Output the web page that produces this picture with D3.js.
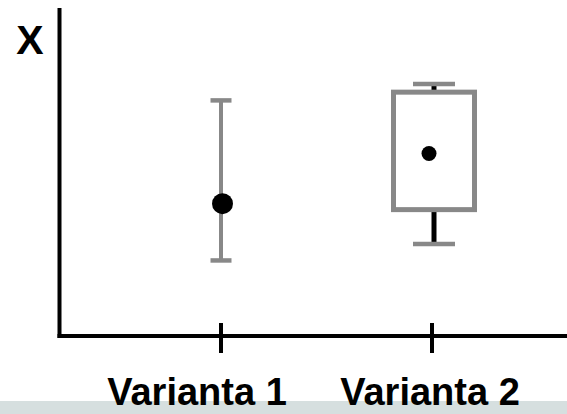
<!DOCTYPE html>
<html>
<head>
<meta charset="utf-8">
<script src="https://cdn.jsdelivr.net/npm/d3@7"></script>
<style>
  body { margin: 0; background: #fff; }
  text { font-family: "Liberation Sans", Arial, sans-serif; font-weight: bold; fill: #000; }
</style>
</head>
<body>
<div id="vis"></div>
<script>
const FRAME_WIDTH = 567;
const FRAME_HEIGHT = 414;

// data (arbitrary units, 0..10 on the y axis)
const categories = ["Varianta 1", "Varianta 2"];
const means = [4.07, 5.59];
const whiskerLow = [2.35, 2.85];
const whiskerHigh = [7.2, 7.7];
const boxLow = [null, 3.89];
const boxHigh = [null, 7.45];
const yLabel = "X";

const GRAY = "#888888";

const FRAME = d3.select("#vis")
                .append("svg")
                  .attr("width", FRAME_WIDTH)
                  .attr("height", FRAME_HEIGHT);

// pale band along the bottom edge
FRAME.append("rect")
      .attr("x", 0)
      .attr("y", 401)
      .attr("width", FRAME_WIDTH)
      .attr("height", FRAME_HEIGHT - 401)
      .attr("fill", "#d6dfdf");

const X_SCALE = d3.scalePoint()
                  .domain(categories)
                  .range([221, 432]);

const Y_SCALE = d3.scaleLinear()
                  .domain([0, 10])
                  .range([338, 8]);

// axes
FRAME.append("line")
      .attr("x1", 59.5).attr("x2", 59.5)
      .attr("y1", Y_SCALE(10)).attr("y2", 338)
      .attr("stroke", "#000").attr("stroke-width", 4);

FRAME.append("line")
      .attr("x1", 57.5).attr("x2", FRAME_WIDTH)
      .attr("y1", 336).attr("y2", 336)
      .attr("stroke", "#000").attr("stroke-width", 4);

// ticks crossing the x axis
FRAME.selectAll("ticks")
    .data(categories)
    .enter()
    .append("line")
      .attr("x1", (d) => X_SCALE(d)).attr("x2", (d) => X_SCALE(d))
      .attr("y1", 323).attr("y2", 353)
      .attr("stroke", "#000").attr("stroke-width", 4);

FRAME.selectAll("catlabels")
    .data(categories)
    .enter()
    .append("text")
      .attr("x", (d) => X_SCALE(d))
      .attr("dx", (d, i) => i === 0 ? -24 : -2)
      .attr("y", 405)
      .attr("text-anchor", "middle")
      .attr("font-size", "38px")
      .text((d) => d);

FRAME.append("text")
      .attr("x", 30)
      .attr("y", 54)
      .attr("text-anchor", "middle")
      .attr("font-size", "41px")
      .text(yLabel);

// one error bar per variant; the second one also has a box
const idx = d3.range(categories.length);

idx.forEach((i) => {
  const cx = X_SCALE(categories[i]);
  const hasBox = boxLow[i] !== null;
  const capW = hasBox ? 42 : 21;

  if (hasBox) {
    // whiskers in black from box edges
    FRAME.append("line")
          .attr("x1", cx + 2).attr("x2", cx + 2)
          .attr("y1", Y_SCALE(whiskerHigh[i])).attr("y2", Y_SCALE(boxHigh[i]))
          .attr("stroke", "#000").attr("stroke-width", 5);
    FRAME.append("line")
          .attr("x1", cx + 2).attr("x2", cx + 2)
          .attr("y1", Y_SCALE(boxLow[i])).attr("y2", Y_SCALE(whiskerLow[i]))
          .attr("stroke", "#000").attr("stroke-width", 5);
    FRAME.append("rect")
          .attr("x", cx - 38.5)
          .attr("y", Y_SCALE(boxHigh[i]))
          .attr("width", 81)
          .attr("height", Y_SCALE(boxLow[i]) - Y_SCALE(boxHigh[i]))
          .attr("fill", "none")
          .attr("stroke", GRAY).attr("stroke-width", 5);
  } else {
    FRAME.append("line")
          .attr("x1", cx).attr("x2", cx)
          .attr("y1", Y_SCALE(whiskerHigh[i])).attr("y2", Y_SCALE(whiskerLow[i]))
          .attr("stroke", GRAY).attr("stroke-width", 4);
  }

  // caps
  [whiskerHigh[i], whiskerLow[i]].forEach((v) => {
    FRAME.append("line")
          .attr("x1", cx - capW / 2 + (hasBox ? 2 : 0))
          .attr("x2", cx + capW / 2 + (hasBox ? 2 : 0))
          .attr("y1", Y_SCALE(v)).attr("y2", Y_SCALE(v))
          .attr("stroke", GRAY).attr("stroke-width", 4.5);
  });

  FRAME.append("circle")
        .attr("cx", cx + (hasBox ? -3 : 1.5))
        .attr("cy", Y_SCALE(means[i]))
        .attr("r", hasBox ? 7.5 : 10.5)
        .attr("fill", "#000");
});
</script>
</body>
</html>
